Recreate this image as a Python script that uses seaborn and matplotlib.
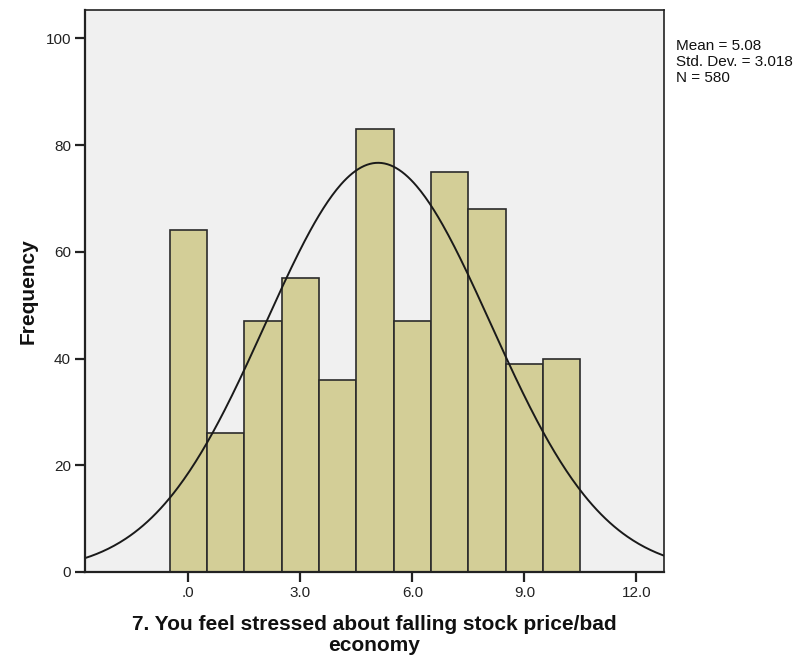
import numpy as np
import pandas as pd
import matplotlib
matplotlib.use("Agg")
import matplotlib.pyplot as plt
import seaborn as sns

# Response scores and their frequencies
scores = [0, 1, 2, 3, 4, 5, 6, 7, 8, 9, 10]
frequencies = [64, 26, 47, 55, 36, 83, 47, 75, 68, 39, 40]

# Summary statistics shown beside the plot
mean_value = 5.08
std_value = 3.018
n_value = 580

x_ticks = [0, 3, 6, 9, 12]
x_tick_labels = [".0", "3.0", "6.0", "9.0", "12.0"]
y_ticks = [0, 20, 40, 60, 80, 100]

sns.set_theme(style="white")
plt.rcParams["font.family"] = ["Liberation Sans", "DejaVu Sans"]

fig = plt.figure(figsize=(7.96, 6.58), dpi=100)
ax = fig.add_axes([0.1068, 0.1307, 0.7274, 0.8541])
ax.set_facecolor("#f0f0f0")

df = pd.DataFrame({"score": scores, "freq": frequencies})
sns.histplot(data=df, x="score", weights="freq", discrete=True, ax=ax,
             color="#d3ce97", alpha=1.0, edgecolor="#2b2b2b", linewidth=1.2)

# Fitted normal curve scaled to counts (bin width 1)
xs = np.linspace(-2.77, 12.77, 400)
ys = n_value * np.exp(-0.5 * ((xs - mean_value) / std_value) ** 2) / (std_value * np.sqrt(2 * np.pi))
ax.plot(xs, ys, color="#1a1a1a", linewidth=1.4)

ax.set_xlim(-2.77, 12.74)
ax.set_ylim(0, 105.3)
ax.set_xticks(x_ticks)
ax.set_xticklabels(x_tick_labels)
ax.set_yticks(y_ticks)

ax.tick_params(axis="both", which="major", direction="out", length=7, width=1.6,
               color="#222222", labelsize=11, labelcolor="#222222", pad=3,
               bottom=True, left=True)

for side in ["left", "bottom", "top", "right"]:
    ax.spines[side].set_visible(True)
    ax.spines[side].set_color("#222222")
ax.spines["left"].set_linewidth(1.6)
ax.spines["bottom"].set_linewidth(1.6)
ax.spines["top"].set_linewidth(1.2)
ax.spines["right"].set_linewidth(1.2)

ax.set_ylabel("Frequency", fontsize=15, fontweight="bold", color="#111111", labelpad=6)
ax.set_xlabel("7. You feel stressed about falling stock price/bad\neconomy", fontsize=15,
              fontweight="bold", color="#111111", labelpad=11, linespacing=1.12)

fig.text(0.849, 0.94, f"Mean = {mean_value:.2f}\nStd. Dev. = {std_value:.3f}\nN = {n_value}",
         fontsize=11, color="#111111", va="top", ha="left", linespacing=1.15)

fig.savefig("out.png", dpi=100)
